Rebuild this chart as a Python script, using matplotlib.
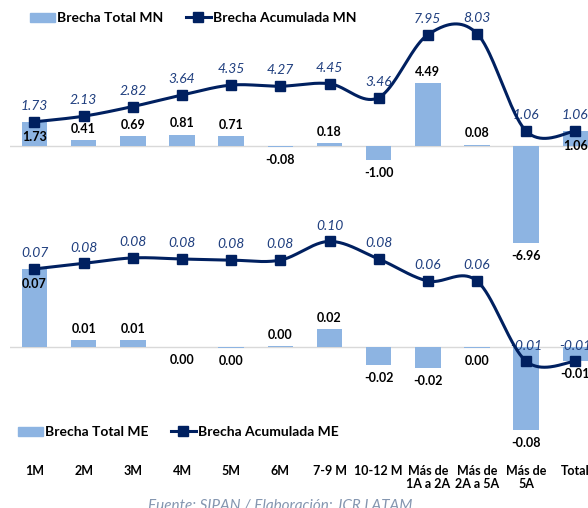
import numpy as np
import matplotlib
matplotlib.use("Agg")
import matplotlib.pyplot as plt
from matplotlib.patches import Patch
from matplotlib.lines import Line2D

plt.rcParams["font.family"] = ["Lato", "DejaVu Sans"]

categorias = ["1M", "2M", "3M", "4M", "5M", "6M", "7-9 M", "10-12 M",
              "Más de\n1A a 2A", "Más de\n2A a 5A", "Más de\n5A", "Total"]

# moneda nacional
brecha_mn = [1.73, 0.41, 0.69, 0.81, 0.71, -0.08, 0.18, -1.00, 4.49, 0.08, -6.96, 1.06]
acum_mn = [1.73, 2.13, 2.82, 3.64, 4.35, 4.27, 4.45, 3.46, 7.95, 8.03, 1.06, 1.06]

# moneda extranjera
brecha_me = [0.071, 0.006, 0.006, -0.0004, -0.0012, 0.0008, 0.016, -0.016, -0.019, -0.001, -0.0755, -0.013]
acum_me = [0.071, 0.076, 0.081, 0.080, 0.079, 0.079, 0.096, 0.080, 0.060, 0.060, -0.013, -0.013]

AZUL_BARRA = "#8db4e2"
AZUL_LINEA = "#002060"
AZUL_TEXTO = "#203f7f"
W, H = 588, 508


def suavizar(x, y, n=40):
    # curva tipo Excel: bezier con puntos de control catmull-rom
    pts = np.column_stack([x, y]).astype(float)
    out = []
    for i in range(len(pts) - 1):
        p0 = pts[i - 1] if i > 0 else pts[i]
        p1, p2 = pts[i], pts[i + 1]
        p3 = pts[i + 2] if i + 2 < len(pts) else pts[i + 1]
        c1 = p1 + (p2 - p0) / 6
        c2 = p2 - (p3 - p1) / 6
        t = np.linspace(0, 1, n)[:, None]
        seg = ((1 - t) ** 3) * p1 + 3 * ((1 - t) ** 2) * t * c1 + 3 * (1 - t) * t ** 2 * c2 + t ** 3 * p2
        out.append(seg if i == 0 else seg[1:])
    s = np.vstack(out)
    return s[:, 0], s[:, 1]


def fmt(v):
    s = f"{v:.2f}"
    return "0.00" if s == "-0.00" else s


def panel(ax, barras, acum, ylim):
    x = np.arange(len(barras))
    ax.set_xlim(-0.5, len(barras) - 0.5)
    ax.set_ylim(*ylim)
    ax.axhline(0, color="#d9d9d9", lw=1, zorder=1)
    ax.bar(x, barras, width=0.52, color=AZUL_BARRA, zorder=2)
    xs, ys = suavizar(x, acum)
    ax.plot(xs, ys, color=AZUL_LINEA, lw=2.2, zorder=5, solid_capstyle="round")
    ax.plot(x, acum, "s", color=AZUL_LINEA, markersize=6.5, zorder=6)
    rango = ylim[1] - ylim[0]
    for xi, b, a in zip(x, barras, acum):
        ax.annotate(fmt(a), (xi, a), xytext=(0, 7), textcoords="offset points",
                    ha="center", va="bottom", fontsize=10, style="italic",
                    color=AZUL_TEXTO, zorder=4)
        if b > 0 and abs(b - a) < 0.03 * rango:
            ax.annotate(fmt(b), (xi, b), xytext=(0, -11), textcoords="offset points",
                        ha="center", va="center", fontsize=9, fontweight="bold",
                        color="black", zorder=4)
        elif b >= 0:
            ax.annotate(fmt(b), (xi, b), xytext=(0, 4), textcoords="offset points",
                        ha="center", va="bottom", fontsize=9, fontweight="bold",
                        color="black", zorder=4)
        else:
            ax.annotate(fmt(b), (xi, b), xytext=(0, -5), textcoords="offset points",
                        ha="center", va="top", fontsize=9, fontweight="bold",
                        color="black", zorder=4)
    for sp in ax.spines.values():
        sp.set_visible(False)
    ax.set_yticks([])
    ax.patch.set_alpha(0)
    return x


fig = plt.figure(figsize=(W / 100, H / 100), dpi=100)

# ejes en pixeles: cero y escala de cada panel
x0, paso = 9.9, 49.17
izq, ancho = x0 / W, 12 * paso / W

ylim_mn = (-7.6, 9.6)
cero_mn, esc_mn = 146, 14.0
top_mn = cero_mn - ylim_mn[1] * esc_mn
bot_mn = cero_mn - ylim_mn[0] * esc_mn
ax1 = fig.add_axes([izq, (H - bot_mn) / H, ancho, (bot_mn - top_mn) / H])

ylim_me = (-0.09, 0.11)
cero_me, esc_me = 347, 1100.0
top_me = cero_me - ylim_me[1] * esc_me
bot_me = cero_me - ylim_me[0] * esc_me
ax2 = fig.add_axes([izq, (H - bot_me) / H, ancho, (bot_me - top_me) / H])

x = panel(ax1, brecha_mn, acum_mn, ylim_mn)
panel(ax2, brecha_me, acum_me, ylim_me)

ax1.set_xticks([])
ax2.set_xticks(x)
ax2.set_xticklabels(categorias, fontsize=9, fontweight="bold", linespacing=1.1)
ax2.tick_params(axis="x", length=0, pad=14)

def leyenda(txt_barra, txt_linea, xpos, ypos):
    handles = [Patch(color=AZUL_BARRA),
               Line2D([0], [0], color=AZUL_LINEA, lw=2.2, marker="s", markersize=6.5)]
    fig.legend(handles, [txt_barra, txt_linea], loc="center left",
               bbox_to_anchor=(xpos / W, 1 - ypos / H), ncol=2, frameon=False,
               prop={"size": 10, "weight": "bold"}, handlelength=1.8, handleheight=0.6,
               handletextpad=0.15, columnspacing=1.6, borderpad=0, borderaxespad=0)

leyenda("Brecha Total MN", "Brecha Acumulada MN", 30, 18)
leyenda("Brecha Total ME", "Brecha Acumulada ME", 18, 432)

fig.text(280 / W, 1 - 506 / H, "Fuente: SIPAN / Elaboración: JCR LATAM",
         ha="center", va="center", fontsize=11, style="italic", color="#8496b0")

fig.savefig("out.png", dpi=100)
